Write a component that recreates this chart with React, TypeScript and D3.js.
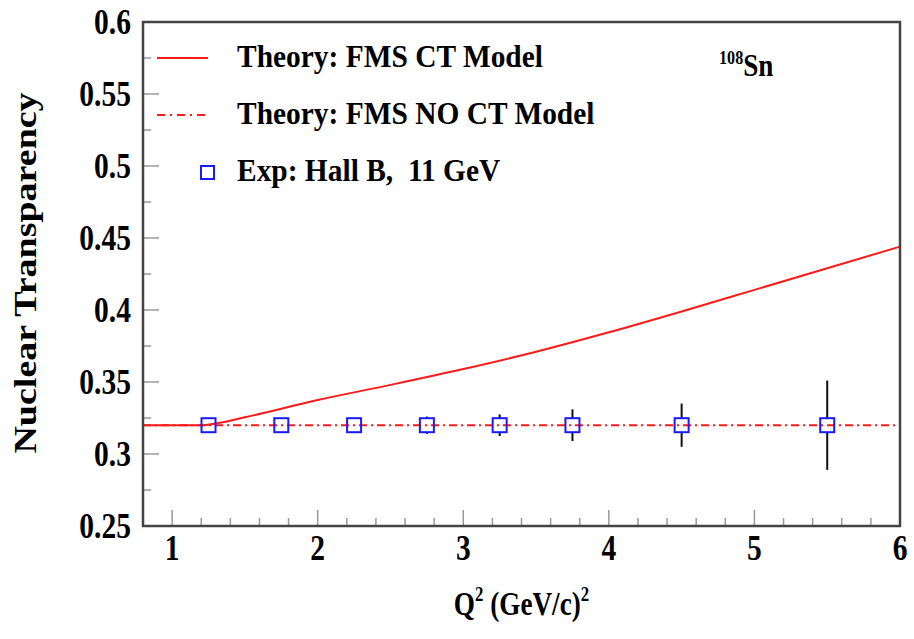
import { useEffect, useRef } from 'react';
import * as d3 from 'd3';

// Q^2 grid for the theory curves
const q2Theory = [0.8, 1.0, 1.2, 1.3, 1.5, 2.0, 2.5, 3.0, 3.5, 4.0, 4.5, 5.0, 5.5, 6.0];
const ctModel = [0.32, 0.32, 0.32, 0.3212, 0.3255, 0.3375, 0.348, 0.359, 0.371, 0.3845, 0.399, 0.414, 0.429, 0.444];
const noCtModel = [0.32, 0.32, 0.32, 0.32, 0.32, 0.32, 0.32, 0.32, 0.32, 0.32, 0.32, 0.32, 0.32, 0.32];

// Hall B 11 GeV projected points
const q2Exp = [1.25, 1.75, 2.25, 2.75, 3.25, 3.75, 4.5, 5.5];
const tExp = [0.32, 0.32, 0.32, 0.32, 0.32, 0.32, 0.32, 0.32];
const errExp = [0.003, 0.004, 0.005, 0.006, 0.0075, 0.011, 0.015, 0.031];

const xTicks = [1, 2, 3, 4, 5, 6];
const yTicks = [0.25, 0.3, 0.35, 0.4, 0.45, 0.5, 0.55, 0.6];

const legendItems = [
  { label: 'Theory: FMS CT Model', kind: 'solid' },
  { label: 'Theory: FMS NO CT Model', kind: 'dashdot' },
  { label: 'Exp: Hall B,  11 GeV', kind: 'marker' },
];

export default function App() {
  const svgRef = useRef<SVGSVGElement>(null);

  useEffect(() => {
    const svg = d3.select(svgRef.current);
    svg.selectAll('*').remove();

    const width = 914;
    const height = 639;
    const margin = { top: 22, right: 14, bottom: 113, left: 143 };
    const w = width - margin.left - margin.right;
    const h = height - margin.top - margin.bottom;
    const font = '"Liberation Serif", "Times New Roman", serif';
    const red = '#ff1a1a';
    const blue = '#1a1aff';
    const box = 7;

    const x = d3.scaleLinear().domain([0.8, 6]).range([0, w]);
    const y = d3.scaleLinear().domain([0.25, 0.6]).range([h, 0]);

    const g = svg.append('g').attr('transform', `translate(${margin.left},${margin.top})`);

    // minor + major ticks (ROOT style, inside the frame)
    const xMinor = d3.range(1, 6.0001, 0.2);
    g.selectAll('.xminor')
      .data(xMinor)
      .join('line')
      .attr('x1', (d) => x(d))
      .attr('x2', (d) => x(d))
      .attr('y1', h)
      .attr('y2', (d) => (Math.abs(d - Math.round(d)) < 1e-6 ? h - 16 : h - 8))
      .attr('stroke', '#999')
      .attr('stroke-width', 1.5);

    const yMinor = d3.range(0.25, 0.6001, 0.025);
    g.selectAll('.yminor')
      .data(yMinor)
      .join('line')
      .attr('x1', 0)
      .attr('x2', (d, i) => (i % 2 === 0 ? 16 : 8))
      .attr('y1', (d) => y(d))
      .attr('y2', (d) => y(d))
      .attr('stroke', '#999')
      .attr('stroke-width', 1.5);

    // tick labels (tall, narrow glyphs like the original)
    g.selectAll('.xlab')
      .data(xTicks)
      .join('text')
      .attr('transform', (d) => `translate(${x(d)},${h + 34}) scale(0.82,1)`)
      .attr('text-anchor', 'middle')
      .attr('font-family', font)
      .attr('font-weight', 'bold')
      .attr('font-size', 36)
      .attr('fill', '#000')
      .text((d) => d);

    g.selectAll('.ylab')
      .data(yTicks)
      .join('text')
      .attr('transform', (d) => `translate(-12,${y(d) + 12}) scale(0.82,1)`)
      .attr('text-anchor', 'end')
      .attr('font-family', font)
      .attr('font-weight', 'bold')
      .attr('font-size', 36)
      .attr('fill', '#000')
      .text((d) => d);

    // axis titles
    const xt = g.append('text')
      .attr('transform', `translate(${w / 2},${h + 89}) scale(0.8,1)`)
      .attr('text-anchor', 'middle')
      .attr('font-family', font)
      .attr('font-weight', 'bold')
      .attr('font-size', 34)
      .attr('fill', '#000');
    xt.append('tspan').text('Q');
    xt.append('tspan').attr('font-size', 21).attr('dy', -14).text('2');
    xt.append('tspan').attr('dy', 14).text(' (GeV/c)');
    xt.append('tspan').attr('font-size', 21).attr('dy', -14).text('2');

    g.append('text')
      .attr('transform', `translate(-107,251) rotate(-90) scale(1,0.85)`)
      .attr('text-anchor', 'middle')
      .attr('font-family', font)
      .attr('font-weight', 'bold')
      .attr('font-size', 38)
      .attr('fill', '#000')
      .text('Nuclear Transparency');

    // theory curves
    const line = d3
      .line<number>()
      .x((d, i) => x(q2Theory[i]))
      .y((d) => y(d))
      .curve(d3.curveMonotoneX);

    g.append('path')
      .attr('d', line(noCtModel))
      .attr('fill', 'none')
      .attr('stroke', red)
      .attr('stroke-width', 2)
      .attr('stroke-dasharray', '8 4 2 4');

    g.append('path')
      .attr('d', line(ctModel))
      .attr('fill', 'none')
      .attr('stroke', red)
      .attr('stroke-width', 2);

    // experimental points: error bars stop at the marker edge
    const pts = g.selectAll('.pt').data(q2Exp).join('g').attr('class', 'pt');
    pts
      .append('line')
      .attr('x1', (d) => x(d))
      .attr('x2', (d) => x(d))
      .attr('y1', (d, i) => Math.min(y(tExp[i] + errExp[i]), y(tExp[i]) - box))
      .attr('y2', (d, i) => y(tExp[i]) - box)
      .attr('stroke', '#111')
      .attr('stroke-width', 2);
    pts
      .append('line')
      .attr('x1', (d) => x(d))
      .attr('x2', (d) => x(d))
      .attr('y1', (d, i) => y(tExp[i]) + box)
      .attr('y2', (d, i) => Math.max(y(tExp[i] - errExp[i]), y(tExp[i]) + box))
      .attr('stroke', '#111')
      .attr('stroke-width', 2);
    pts
      .append('rect')
      .attr('x', (d) => x(d) - box)
      .attr('y', (d, i) => y(tExp[i]) - box)
      .attr('width', box * 2)
      .attr('height', box * 2)
      .attr('fill', 'none')
      .attr('stroke', blue)
      .attr('stroke-width', 2);

    // frame
    g.append('rect')
      .attr('width', w)
      .attr('height', h)
      .attr('fill', 'none')
      .attr('stroke', '#444')
      .attr('stroke-width', 2.5);

    // legend
    const legend = svg.append('g').attr('transform', 'translate(157,58)');
    legendItems.forEach((item, i) => {
      const row = legend.append('g').attr('transform', `translate(0,${i * 57})`);
      if (item.kind === 'marker') {
        row.append('rect')
          .attr('x', 44).attr('y', -6).attr('width', 13).attr('height', 13)
          .attr('fill', 'none').attr('stroke', blue).attr('stroke-width', 2);
      } else {
        row.append('line')
          .attr('x1', 0).attr('x2', 51).attr('y1', 0).attr('y2', 0)
          .attr('stroke', red).attr('stroke-width', 2)
          .attr('stroke-dasharray', item.kind === 'dashdot' ? '8 5 2 5' : null);
      }
      row.append('text')
        .attr('transform', 'translate(80,9) scale(0.92,1)')
        .attr('font-family', font)
        .attr('font-weight', 'bold')
        .attr('font-size', 32)
        .attr('fill', '#000')
        .style('white-space', 'pre')
        .text(item.label);
    });

    // nucleus label
    const nuc = svg.append('text')
      .attr('transform', 'translate(719,76) scale(0.85,1)')
      .attr('font-family', font)
      .attr('font-weight', 'bold')
      .attr('font-size', 32)
      .attr('fill', '#000');
    nuc.append('tspan').attr('font-size', 19).attr('dy', -12).text('108');
    nuc.append('tspan').attr('dy', 12).text('Sn');

    return () => {
      svg.selectAll('*').remove();
    };
  }, []);

  return (
    <svg
      ref={svgRef}
      width={914}
      height={639}
      style={{ position: 'absolute', left: 0, top: 0, background: '#fff' }}
    />
  );
}
